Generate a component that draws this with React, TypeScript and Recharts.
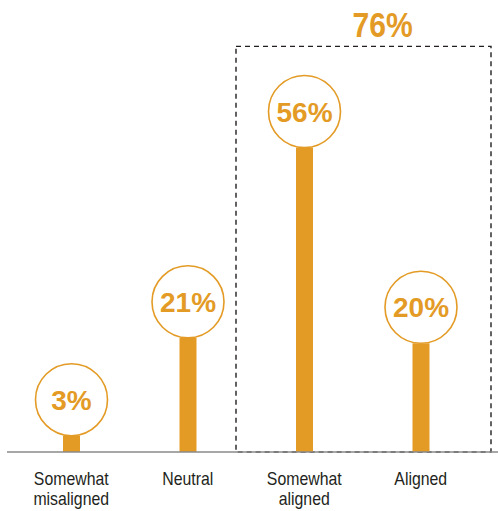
import { BarChart, Bar, XAxis, YAxis, LabelList, ReferenceArea } from "recharts";

const categories = ["Somewhat misaligned", "Neutral", "Somewhat aligned", "Aligned"];
const shares = [3, 21, 56, 20];
const groupLabel = "76%";
const groupTop = 74.6;

const ORANGE = "#E39B26";
const FONT = '"Liberation Sans", Arial, sans-serif';

const data = categories.map((name, i) => ({ name, value: shares[i] }));

// circle sitting on top of each bar, with the value inside
const Bubble = (props: any) => {
  const { x, y, width, value } = props;
  const cx = x + width / 2;
  const r = 36;
  const cy = y - r;
  return (
    <g>
      <circle cx={cx} cy={cy} r={r} fill="#fff" stroke={ORANGE} strokeWidth={1.6} />
      <text
        x={cx}
        y={cy + 10}
        textAnchor="middle"
        fill={ORANGE}
        fontFamily={FONT}
        fontWeight="bold"
        fontSize={28}
      >
        {value}%
      </text>
    </g>
  );
};

const Tick = (props: any) => {
  const { x, y, payload } = props;
  const label: string = payload.value;
  const lines = label.startsWith("Somewhat ") ? ["Somewhat", label.slice(9)] : [label];
  return (
    <g transform={`translate(${x},${y}) scale(0.88,1)`}>
      <text x={0} y={0} textAnchor="middle" fill="#231F20" fontFamily={FONT} fontSize={18}>
        {lines.map((l, i) => (
          <tspan key={i} x={0} dy={i === 0 ? 25 : 20.5}>
            {l}
          </tspan>
        ))}
      </text>
    </g>
  );
};

const GroupBox = (props: any) => {
  const { x, y, width, height } = props;
  const left = x - 10;
  const right = x + width + 12;
  const labelX = left + (right - left) * 0.575;
  return (
    <g>
      <rect
        x={left}
        y={y}
        width={right - left}
        height={height}
        fill="none"
        stroke="#231F20"
        strokeWidth={1.4}
        strokeDasharray="5 4"
      />
      <g transform={`translate(${labelX},${y - 9}) scale(0.86,1)`}>
        <text
          x={0}
          y={0}
          textAnchor="middle"
          fill={ORANGE}
          fontFamily={FONT}
          fontWeight="bold"
          fontSize={35}
        >
          {groupLabel}
        </text>
      </g>
    </g>
  );
};

export default function App() {
  return (
    <div style={{ position: "absolute", left: 0, top: 0, background: "#fff" }}>
      <BarChart
        width={498}
        height={511}
        data={data}
        margin={{ top: 17, right: 0, bottom: 29, left: 7 }}
        barSize={17}
      >
        <XAxis
          dataKey="name"
          height={30}
          tickLine={false}
          axisLine={{ stroke: "#8a8a8a", strokeWidth: 1.5 }}
          padding={{ left: 6, right: 19 }}
          interval={0}
          tick={<Tick />}
        />
        <YAxis hide domain={[0, 80]} />
        <ReferenceArea
          x1="Somewhat aligned"
          x2="Aligned"
          y1={0}
          y2={groupTop}
          ifOverflow="visible"
          shape={<GroupBox />}
        />
        <Bar dataKey="value" fill={ORANGE} isAnimationActive={false}>
          <LabelList dataKey="value" content={<Bubble />} />
        </Bar>
      </BarChart>
    </div>
  );
}
